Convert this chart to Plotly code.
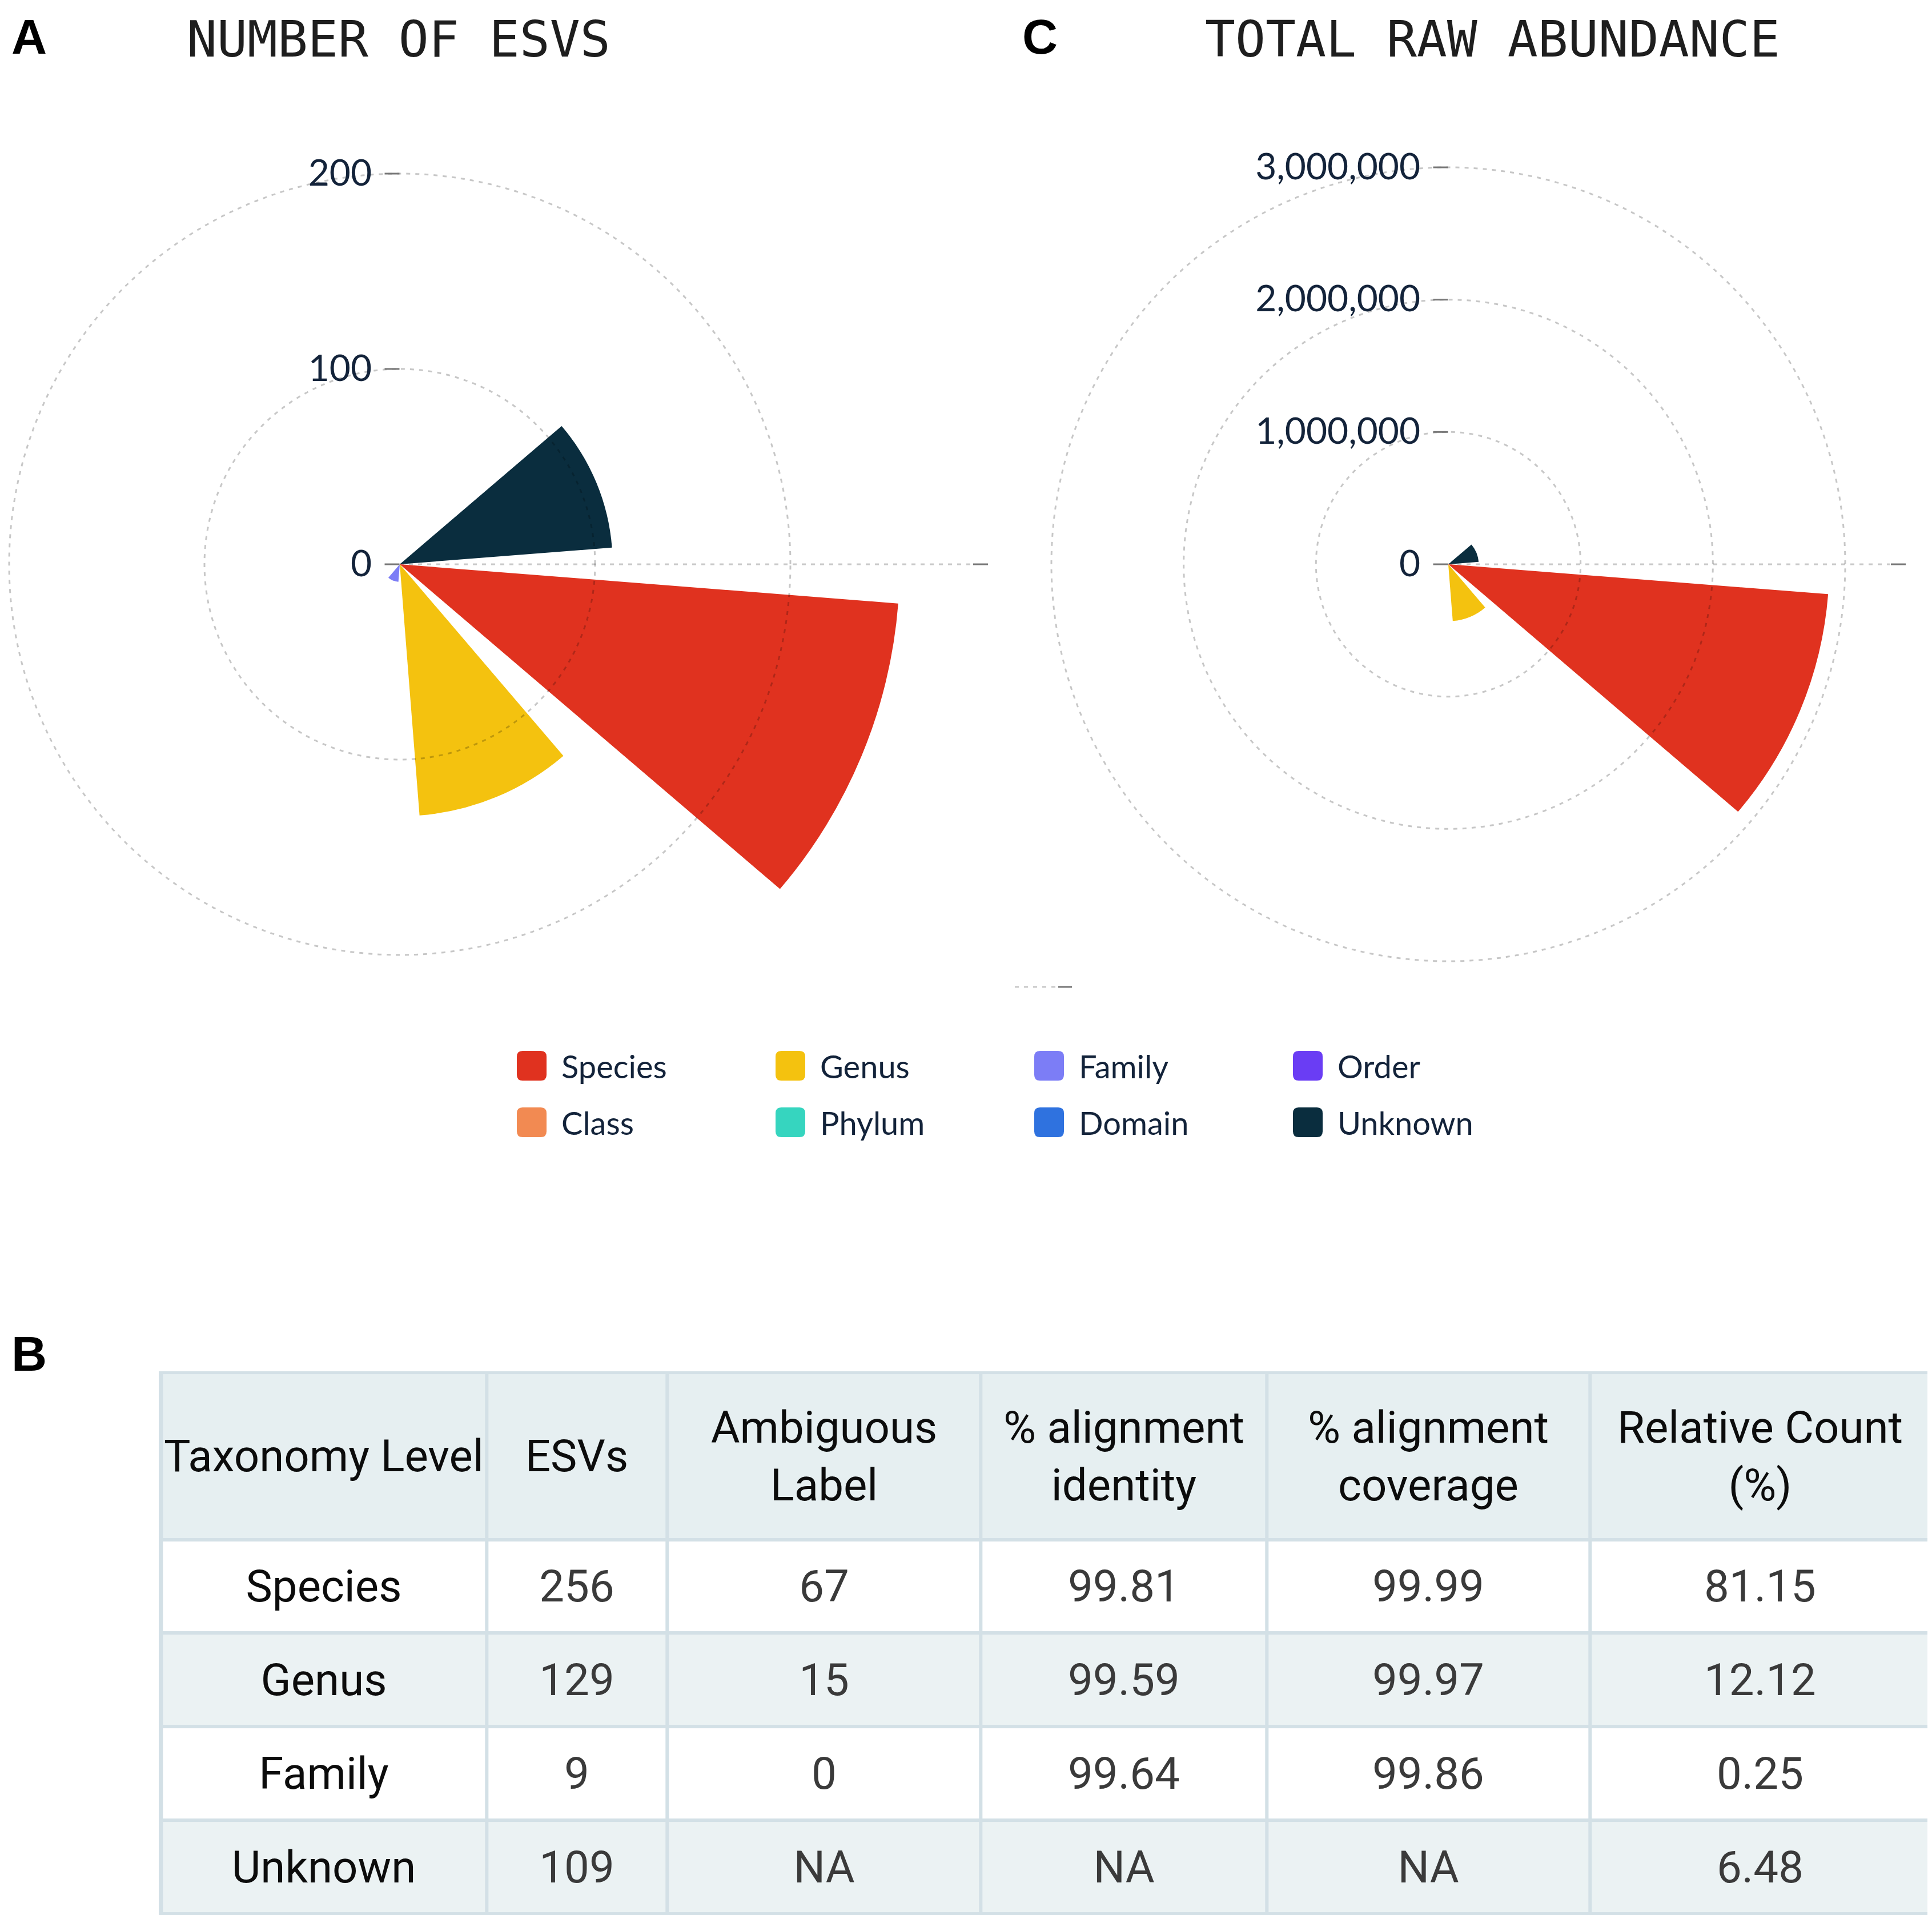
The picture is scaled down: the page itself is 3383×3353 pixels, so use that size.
import plotly.graph_objects as go

# taxonomy levels shown in both polar charts
categories = ['Species', 'Genus', 'Family', 'Order', 'Class', 'Phylum', 'Domain', 'Unknown']
colors = ['#e0321f', '#f4c20f', '#7c7df6', '#6a3df4', '#f28a52', '#36d5bf', '#2f72df', '#0a2d3e']

# panel A: number of ESVs, panel C: total raw abundance
esv_counts = [256, 129, 9, 0, 0, 0, 0, 109]
raw_abundance = [2880000, 430000, 8900, 0, 0, 0, 0, 230000]

# panel B table
table_header = ['Taxonomy Level', 'ESVs', 'Ambiguous<br>Label', '% alignment<br>identity',
                '% alignment<br>coverage', 'Relative Count<br>(%)']
table_levels = ['Species', 'Genus', 'Family', 'Unknown']
table_esvs = ['256', '129', '9', '109']
table_ambiguous = ['67', '15', '0', 'NA']
table_identity = ['99.81', '99.59', '99.64', 'NA']
table_coverage = ['99.99', '99.97', '99.86', 'NA']
table_relative = ['81.15', '12.12', '0.25', '6.48']

W, H = 3383, 3353
font = 'Lato'
ink = '#13233a'
grid = dict(gridcolor='rgba(0,0,0,0.22)', griddash='7px,9px', gridwidth=3)


def px(x):
    return x / W


def py(y):
    # y measured from the top of the page
    return 1 - y / H


def polar_domain(cx, cy, r, left=1.0):
    # left: how far the drawn sector reaches to the left, in radii
    return dict(x=[max(0, px(cx - left * r)), min(1, px(cx + r))],
                y=[py(cy + r), py(cy - r)])


# geometry of the two charts (pixels); panel A bars run past the 200 ring
scale_a = 3.42
A_cx, A_cy = 692, 980
A_bar_max, A_grid_max = 258, 202
C_cx, C_cy, C_max = 2528, 980, 3030000
C_r = C_max * 695 / 3000000
sector_a = [-135, 135]
sector_left = 0.7071

fig = go.Figure()

for i, cat in enumerate(categories):
    fig.add_trace(go.Barpolar(
        r=[esv_counts[i]], theta=[cat], name=cat,
        marker=dict(color=colors[i], line=dict(width=0)),
        subplot='polar', showlegend=False
    ))
    fig.add_trace(go.Barpolar(
        r=[raw_abundance[i]], theta=[cat], name=cat,
        marker=dict(color=colors[i], line=dict(width=0)),
        subplot='polar2', showlegend=False
    ))

# empty carriers so the ring/tick overlays get drawn above the bars
for sp in ['polar3', 'polar4']:
    fig.add_trace(go.Scatterpolar(
        r=[0], theta=[categories[0]], mode='markers', marker=dict(opacity=0),
        showlegend=False, hoverinfo='skip', subplot=sp
    ))

# table drawn as a heatmap grid so every cell text is centred
col_widths = [265, 147, 255, 233, 263, 277]
row_heights = [291, 163, 163, 163, 163]
x_edges = [0]
for w in col_widths:
    x_edges.append(x_edges[-1] + w)
y_edges = [0]
for hgt in row_heights:
    y_edges.append(y_edges[-1] + hgt)


def strong(s):
    return '<span style="color:#0c0c0c">' + s + '</span>'


columns = [table_levels, table_esvs, table_ambiguous, table_identity, table_coverage, table_relative]
cell_text = [[strong(s) for s in table_header]]
for r in range(len(table_levels)):
    cell_text.append([strong(columns[0][r])] + [col[r] for col in columns[1:]])
cell_shade = [[2] * len(columns)] + [[r % 2] * len(columns) for r in range(len(table_levels))]

fig.add_trace(go.Heatmap(
    x=x_edges, y=y_edges, z=cell_shade,
    text=cell_text, texttemplate='%{text}',
    textfont=dict(family='Roboto', size=78, color='#3a3a3a'),
    colorscale=[[0, '#ffffff'], [0.5, '#ebf2f3'], [1, '#e6eff1']],
    zmin=0, zmax=2, showscale=False, hoverinfo='skip',
    xgap=6, ygap=6
))

hidden_radial = dict(visible=False)
ring_radial = dict(
    angle=90, side='counterclockwise', tickangle=90,
    ticks='outside', ticklen=26, tickwidth=3, tickcolor='#777777',
    showline=False, tickfont=dict(family=font, size=64, color=ink), **grid
)
angular_cat = dict(
    type='category', categoryorder='array', categoryarray=categories,
    rotation=-22.5, direction='clockwise',
    showgrid=False, showline=False, showticklabels=False, ticks=''
)
angular_off = dict(showgrid=False, showline=False, showticklabels=False, ticks='')

fig.update_layout(
    width=W, height=H,
    margin=dict(l=0, r=0, t=0, b=0),
    paper_bgcolor='white',
    plot_bgcolor='#d3e0e6',
    showlegend=False,
    xaxis=dict(domain=[px(270), px(3376)], range=[-2, x_edges[-1] + 2], visible=False, fixedrange=True),
    yaxis=dict(domain=[py(3345), py(2393)], range=[y_edges[-1] + 2, -2], visible=False, fixedrange=True),
    # bars of panel A (sector trimmed on the empty left side so the long bar fits)
    polar=dict(
        domain=polar_domain(A_cx, A_cy, A_bar_max * scale_a, sector_left),
        sector=sector_a, bgcolor='rgba(0,0,0,0)', bargap=0.2,
        radialaxis=dict(range=[0, A_bar_max], **hidden_radial),
        angularaxis=angular_cat
    ),
    # bars of panel C
    polar2=dict(
        domain=polar_domain(C_cx, C_cy, C_r),
        bgcolor='rgba(0,0,0,0)', bargap=0.2,
        radialaxis=dict(range=[0, C_max], **hidden_radial),
        angularaxis=angular_cat
    ),
    # rings and radial ticks of panel A
    polar3=dict(
        domain=polar_domain(A_cx, A_cy, A_grid_max * scale_a),
        bgcolor='rgba(0,0,0,0)',
        radialaxis=dict(range=[0, A_grid_max], tickvals=[0, 100, 200], **ring_radial),
        angularaxis=angular_off
    ),
    # rings and radial ticks of panel C
    polar4=dict(
        domain=polar_domain(C_cx, C_cy, C_r),
        bgcolor='rgba(0,0,0,0)',
        radialaxis=dict(range=[0, C_max], dtick=1000000, tickformat=',', **ring_radial),
        angularaxis=angular_off
    ),
)

annotations = []
shapes = []

# panel titles and letters
annotations.append(dict(text='NUMBER OF ESVS', x=px(690), y=py(60), xref='paper', yref='paper',
                        showarrow=False, xanchor='center', yanchor='middle',
                        font=dict(family='DejaVu Sans Mono', size=88, color='#1e1e1e')))
annotations.append(dict(text='TOTAL RAW ABUNDANCE', x=px(2605), y=py(60), xref='paper', yref='paper',
                        showarrow=False, xanchor='center', yanchor='middle',
                        font=dict(family='DejaVu Sans Mono', size=88, color='#1e1e1e')))
for letter, lx, ly in [('A', 10, 6), ('C', 1780, 6), ('B', 10, 2312)]:
    annotations.append(dict(text='<b>' + letter + '</b>', x=px(lx), y=py(ly), xref='paper', yref='paper',
                            showarrow=False, xanchor='left', yanchor='top',
                            font=dict(family='Liberation Sans', size=86, color='black')))

# dotted zero-angle lines with their end ticks
for x0, x1, y, t0, t1 in [(A_cx, 1694, A_cy, 1696, 1722),
                          (C_cx, 3301, C_cy, 3303, 3329),
                          (1769, 1842, 1720, 1845, 1869)]:
    shapes.append(dict(type='line', xref='paper', yref='paper', x0=px(x0), x1=px(x1), y0=py(y), y1=py(y),
                       line=dict(color='#c9c9c9', width=3, dash='7px,9px'), layer='below'))
    shapes.append(dict(type='line', xref='paper', yref='paper', x0=px(t0), x1=px(t1), y0=py(y), y1=py(y),
                       line=dict(color='#777777', width=3)))

# legend: two rows of four rounded swatches
h, rr = 26, 10
swatch = ('M {a},{b} L {c},{b} Q {d},{b} {d},{e} L {d},{f} Q {d},{d} {c},{d} '
          'L {a},{d} Q {b},{d} {b},{f} L {b},{e} Q {b},{b} {a},{b} Z').format(
    a=-h + rr, b=-h, c=h - rr, d=h, e=-h + rr, f=h - rr)
for i, cat in enumerate(categories):
    row, col = divmod(i, 4)
    sx = 897 + 453 * col + h
    sy = 1858 + 99 * row
    shapes.append(dict(type='path', xref='paper', yref='paper', xsizemode='pixel', ysizemode='pixel',
                       xanchor=px(sx), yanchor=py(sy), path=swatch,
                       fillcolor=colors[i], line=dict(width=0)))
    annotations.append(dict(text=cat, x=px(sx + h + 24), y=py(sy), xref='paper', yref='paper',
                            showarrow=False, xanchor='left', yanchor='middle',
                            font=dict(family=font, size=56, color=ink)))

fig.update_layout(annotations=annotations, shapes=shapes)

fig.write_html('out.html')
